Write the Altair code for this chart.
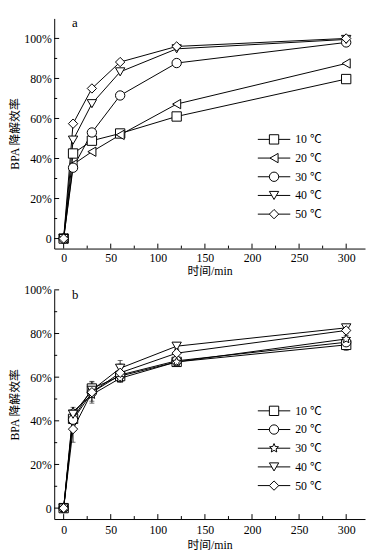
import altair as alt
import pandas as pd

time = [0, 10, 30, 60, 120, 300]
temps = ["10 ℃", "20 ℃", "30 ℃", "40 ℃", "50 ℃"]

# panel a values (%)
a_10 = [0, 42.5, 48.9, 52.5, 61.0, 79.7]
a_20 = [0, 37.0, 43.4, 51.8, 67.2, 87.5]
a_30 = [0, 35.4, 53.0, 71.5, 87.7, 98.0]
a_40 = [0, 49.2, 67.4, 83.3, 94.8, 99.5]
a_50 = [0, 57.4, 75.0, 88.2, 96.0, 100.0]

# panel b values (%)
b_10 = [0, 40.9, 54.8, 60.5, 67.0, 74.8]
b_20 = [0, 40.5, 53.0, 61.0, 67.5, 76.0]
b_30 = [0, 44.2, 52.0, 59.5, 67.0, 77.5]
b_40 = [0, 43.0, 54.0, 64.1, 74.2, 82.6]
b_50 = [0, 36.2, 53.1, 62.0, 71.0, 81.4]

# panel b error bars (%)
e_10 = [0, 2, 3, 2, 1.5, 2.5]
e_20 = [0, 2, 2, 2, 1.5, 1.5]
e_30 = [0, 2, 3, 2, 1.5, 1.5]
e_40 = [0, 2, 2, 3.5, 1.5, 1.0]
e_50 = [0, 6, 5, 4, 2.0, 1.5]

STAR = ("M0,-1L0.27,-0.37L0.951,-0.309L0.44,0.14L0.588,0.809L0,0.46"
        "L-0.588,0.809L-0.44,0.14L-0.951,-0.309L-0.27,-0.37Z")
shapes_a = ["square", "triangle-left", "circle", "triangle-down", "diamond"]
shapes_b = ["square", "circle", STAR, "triangle-down", "diamond"]

x_major = [0, 50, 100, 150, 200, 250, 300]
x_minor = [25, 75, 125, 175, 225, 275]
y_major = [0, 20, 40, 60, 80, 100]
y_minor = [10, 30, 50, 70, 90]

FONT = "Liberation Serif, Noto Sans CJK SC"
W = 316


def make_df(series, errs):
    rows = []
    for name, vals, ers in zip(temps, series, errs):
        for t, v, e in zip(time, vals, ers):
            rows.append({"time": t, "value": v, "err": e, "series": name})
    return pd.DataFrame(rows)


def panel(series, errs, shapes, label, ymax, H, with_err, lpad, tpad):
    df = make_df(series, errs)
    xs = alt.Scale(domain=[-10, 320], nice=False, zero=False)
    ys = alt.Scale(domain=[-5, ymax], nice=False, zero=False)
    shp = alt.Scale(domain=temps, range=shapes)
    X = alt.X("time:Q", scale=xs,
              axis=alt.Axis(values=x_major, title="时间/min", labelPadding=lpad,
                            titlePadding=tpad, format="d"))
    Y = alt.Y("value:Q", scale=ys,
              axis=alt.Axis(values=y_major, title="BPA 降解效率", labelPadding=3,
                            titlePadding=2,
                            labelExpr="datum.value == 0 ? '0' : datum.value + '%'"))
    base = alt.Chart(df)
    lines = base.mark_line(color="black", strokeWidth=1).encode(
        x=X, y=Y, detail="series:N")
    layers = [lines]
    if with_err:
        eb = base.mark_errorbar(ticks=True, color="black", thickness=0.8).encode(
            x=alt.X("time:Q", scale=xs),
            y=alt.Y("value:Q", scale=ys, title=""),
            yError="err:Q", detail="series:N")
        layers.append(eb)
    pts = base.mark_point(filled=True, fill="white", stroke="black",
                          strokeWidth=1, size=90, opacity=1).encode(
        x=alt.X("time:Q", scale=xs),
        y=alt.Y("value:Q", scale=ys),
        shape=alt.Shape("series:N", scale=shp, legend=None))
    layers.append(pts)

    ym = pd.DataFrame({"v": y_major})
    yn = pd.DataFrame({"v": y_minor})
    xm = pd.DataFrame({"v": x_major})
    xn = pd.DataFrame({"v": x_minor})
    layers.append(alt.Chart(ym).mark_rule(color="black").encode(
        y=alt.Y("v:Q", scale=ys), x=alt.value(0), x2=alt.value(5)))
    layers.append(alt.Chart(yn).mark_rule(color="black").encode(
        y=alt.Y("v:Q", scale=ys), x=alt.value(0), x2=alt.value(3)))
    layers.append(alt.Chart(xm).mark_rule(color="black").encode(
        x=alt.X("v:Q", scale=xs), y=alt.value(H), y2=alt.value(H - 5)))
    layers.append(alt.Chart(xn).mark_rule(color="black").encode(
        x=alt.X("v:Q", scale=xs), y=alt.value(H), y2=alt.value(H - 3)))
    lab = alt.Chart(pd.DataFrame({"t": [label]})).mark_text(
        font=FONT, fontSize=13, align="left", baseline="middle").encode(
        text="t:N", x=alt.value(18), y=alt.value(5))
    layers.append(lab)
    data_layer = alt.layer(*layers)

    leg = pd.DataFrame({"series": temps, "idx": list(range(5))})
    LY = alt.Y("idx:Q", scale=alt.Scale(domain=[0, 4], range=[123, 199]), axis=None)
    lb = alt.Chart(leg)
    lr = lb.mark_rule(color="black", strokeWidth=1).encode(
        x=alt.value(207), x2=alt.value(240), y=LY)
    lp = lb.mark_point(filled=True, fill="white", stroke="black",
                       strokeWidth=1, size=90, opacity=1).encode(
        x=alt.value(223.5), y=LY,
        shape=alt.Shape("series:N", scale=shp, legend=None))
    lt = lb.mark_text(font=FONT, fontSize=12, align="left",
                      baseline="middle").encode(
        x=alt.value(245), y=LY, text="series:N")
    legend_layer = alt.layer(lr, lp, lt)

    return alt.layer(data_layer, legend_layer).resolve_scale(
        y="independent").properties(width=W, height=H)


top = panel([a_10, a_20, a_30, a_40, a_50], [[0] * 6] * 5, shapes_a, "a",
            110, 234, False, 4, 2)
bottom = panel([b_10, b_20, b_30, b_40, b_50], [e_10, e_20, e_30, e_40, e_50],
               shapes_b, "b", 100, 233, True, 6, 4)

chart = alt.vconcat(top, bottom, spacing=6).resolve_scale(
    shape="independent"
).properties(
    padding={"left": 0, "top": 4, "right": 0, "bottom": 0}
).configure_view(stroke="transparent").configure_axis(
    labelFont=FONT, labelFontSize=12, labelColor="black",
    titleFont=FONT, titleFontSize=12, titleFontWeight="normal", titleColor="black",
    domainColor="black", domainWidth=1, ticks=False, grid=False
)

chart.save("out.html", embed_options={"renderer": "svg", "actions": False})
